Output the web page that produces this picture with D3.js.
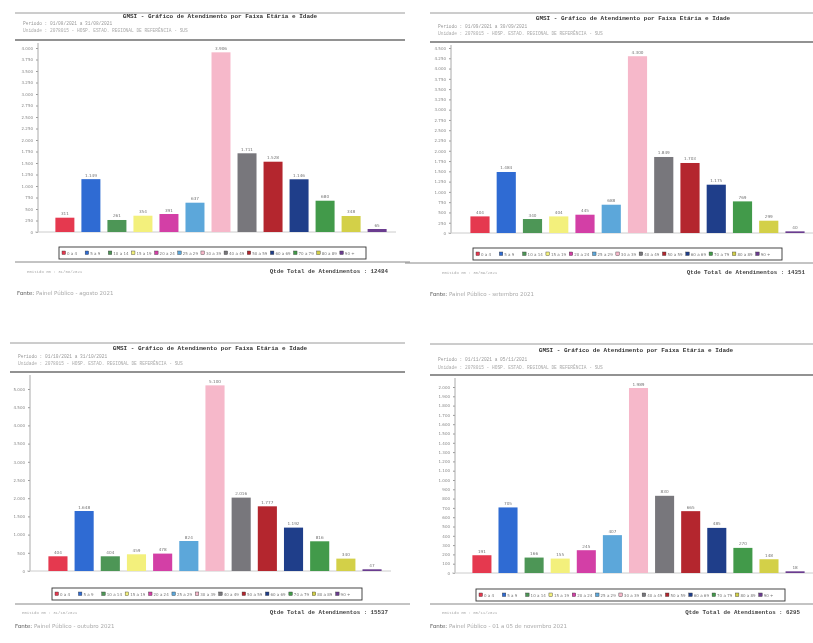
<!DOCTYPE html>
<html>
<head>
<meta charset="utf-8">
<script src="https://cdn.jsdelivr.net/npm/d3@7"></script>
<style>
body { margin: 0; background: #fff; }
svg { display: block; filter: blur(0.6px); }
</style>
</head>
<body>
<div class="chart"></div>
<script>
// faixas etarias (legenda) e cores das barras
var categories = ["0 a 4", "5 a 9", "10 a 14", "15 a 19", "20 a 24", "25 a 29", "30 a 39",
                  "40 a 49", "50 a 59", "60 a 69", "70 a 79", "80 a 89", "90 +"]
var colors = ["#e5394f", "#2f6bd3", "#4d9656", "#f3f07c", "#d33fa6", "#5ca7da", "#f6b8ca",
              "#78777c", "#b4262e", "#1f3e8a", "#429a4a", "#d3d048", "#6a3c8f"]

var agosto   = [311, 1149, 261, 354, 391, 637, 3906, 1711, 1528, 1146, 680, 348, 65]
var setembro = [404, 1484, 340, 404, 445, 688, 4300, 1849, 1703, 1175, 769, 299, 40]
var outubro  = [404, 1648, 404, 459, 478, 824, 5100, 2016, 1777, 1192, 816, 340, 47]
var novembro = [191, 705, 166, 155, 245, 407, 1989, 830, 665, 485, 270, 148, 18]

var totais = [12484, 14351, 15537, 6295]
var yMaxes = [4000, 4500, 5000, 2000]
var ySteps = [250, 250, 500, 100]
var periodos = ["01/08/2021  a  31/08/2021", "01/09/2021  a  30/09/2021",
                "01/10/2021  a  31/10/2021", "01/11/2021  a  05/11/2021"]
var fontes = ["agosto 2021", "setembro 2021", "outubro 2021", "01 a 05 de novembro 2021"]

var width = 813, height = 643

var svg = d3.select(".chart")
  .append("svg")
  .attr("width", width)
  .attr("height", height)

var pt = d3.formatLocale({decimal: ",", thousands: ".", grouping: [3], currency: ["R$", ""]})
var fmt = pt.format(",d")

// posicao de cada painel na pagina escaneada
var panels = [
  {data: agosto, axisX: 38, yTop: 48, y0: 232, x0: 52, x1: 390,
   hL: 15, hR: 405, line1: 13, titleX: 220, titleY: 18, perY: 25, uniY: 32, line2: 40,
   legX: 59, legW: 307, legY: 247, botY: 262, botL: 15, botR: 410, totX: 388, totY: 273, fonteX: 17, fonteY: 295},
  {data: setembro, axisX: 451, yTop: 48, y0: 233, x0: 467, x1: 808,
   hL: 430, hR: 813, line1: 13, titleX: 633, titleY: 20, perY: 28, uniY: 35, line2: 42,
   legX: 473, legW: 309, legY: 248, botY: 263, botL: 405, botR: 813, totX: 805, totY: 274, fonteX: 430, fonteY: 296},
  {data: outubro, axisX: 30, yTop: 389, y0: 571, x0: 45, x1: 385,
   hL: 10, hR: 405, line1: 343, titleX: 210, titleY: 350, perY: 358, uniY: 365, line2: 372,
   legX: 52, legW: 310, legY: 588, botY: 604, botL: 15, botR: 410, totX: 388, totY: 614, fonteX: 15, fonteY: 628},
  {data: novembro, axisX: 455, yTop: 387, y0: 573, x0: 469, x1: 808,
   hL: 430, hR: 813, line1: 344, titleX: 636, titleY: 352, perY: 361, uniY: 369, line2: 375,
   legX: 476, legW: 309, legY: 589, botY: 604, botL: 430, botR: 813, totX: 800, totY: 614, fonteX: 430, fonteY: 628}
]

panels.forEach(function(p, i) {
  var g = svg.append("g").attr("class", "panel")

  var x = d3.scaleBand()
    .domain(categories)
    .range([p.x0, p.x1])
    .paddingInner(0.27)
    .paddingOuter(0.13)

  var y = d3.scaleLinear()
    .domain([0, yMaxes[i]])
    .range([p.y0, p.yTop])

  // cabecalho
  g.append("line").attr("x1", p.hL).attr("x2", p.hR).attr("y1", p.line1).attr("y2", p.line1)
    .attr("stroke", "#9a9a9a").attr("stroke-width", 1)
  g.append("text")
    .attr("x", p.titleX).attr("y", p.titleY)
    .attr("text-anchor", "middle")
    .style("font", "bold 6px 'Liberation Mono', monospace")
    .attr("fill", "#333")
    .text("GMSI - Gráfico de Atendimento por Faixa Etária e Idade")
  g.append("text")
    .attr("x", p.hL + 8).attr("y", p.perY)
    .style("font", "4.5px 'Liberation Mono', monospace").attr("fill", "#999")
    .text("Período :   " + periodos[i])
  g.append("text")
    .attr("x", p.hL + 8).attr("y", p.uniY)
    .style("font", "4.5px 'Liberation Mono', monospace").attr("fill", "#aaa")
    .text("Unidade :   2078015 - HOSP. ESTAD. REGIONAL DE REFERÊNCIA - SUS")
  g.append("line").attr("x1", p.hL).attr("x2", p.hR).attr("y1", p.line2).attr("y2", p.line2)
    .attr("stroke", "#6e6e6e").attr("stroke-width", 1.3)

  // eixo y
  var yAxis = d3.axisLeft(y)
    .tickValues(d3.range(0, yMaxes[i] + 1, ySteps[i]))
    .tickSize(2)
    .tickFormat(fmt)
  var ga = g.append("g")
    .attr("transform", "translate(" + p.axisX + ",0)")
    .call(yAxis)
  ga.select(".domain").remove()
  ga.selectAll("line").attr("stroke", "#999")
  ga.selectAll("text").style("font", "4px 'DejaVu Sans', sans-serif").attr("fill", "#888")
  g.append("line").attr("x1", p.axisX).attr("x2", p.axisX)
    .attr("y1", p.y0).attr("y2", p.line2 + 3).attr("stroke", "#aaa")
  g.append("line").attr("x1", p.axisX - 3).attr("x2", p.x1 + 6)
    .attr("y1", p.y0).attr("y2", p.y0).attr("stroke", "#ccc")

  // barras
  g.selectAll("rect.bar")
    .data(p.data)
    .enter()
    .append("rect")
    .attr("class", "bar")
    .attr("x", function(d, j) { return x(categories[j]) })
    .attr("y", function(d) { return y(d) })
    .attr("width", x.bandwidth())
    .attr("height", function(d) { return p.y0 - y(d) })
    .attr("fill", function(d, j) { return colors[j] })

  g.selectAll("text.val")
    .data(p.data)
    .enter()
    .append("text")
    .attr("class", "val")
    .attr("x", function(d, j) { return x(categories[j]) + x.bandwidth() / 2 })
    .attr("y", function(d) { return y(d) - 2.5 })
    .attr("text-anchor", "middle")
    .style("font", "4.2px 'DejaVu Sans', sans-serif")
    .attr("fill", "#777")
    .text(function(d) { return fmt(d) })

  // legenda
  var leg = g.append("g").attr("transform", "translate(" + p.legX + "," + p.legY + ")")
  leg.append("rect").attr("width", p.legW).attr("height", 12)
    .attr("fill", "#fff").attr("stroke", "#333").attr("stroke-width", 0.9)
  var lx = d3.scaleBand().domain(categories).range([3, p.legW - 3])
  var items = leg.selectAll("g.item")
    .data(categories)
    .enter()
    .append("g")
    .attr("class", "item")
    .attr("transform", function(d) { return "translate(" + lx(d) + ",0)" })
  items.append("rect")
    .attr("y", 4).attr("width", 3.5).attr("height", 3.5)
    .attr("fill", function(d, j) { return colors[j] })
    .attr("stroke", "#333").attr("stroke-width", 0.4)
  items.append("text")
    .attr("x", 5).attr("y", 7.6)
    .style("font", "4px 'DejaVu Sans', sans-serif").attr("fill", "#777")
    .text(function(d) { return d })

  // rodape
  g.append("line").attr("x1", p.botL).attr("x2", p.botR).attr("y1", p.botY).attr("y2", p.botY)
    .attr("stroke", "#888").attr("stroke-width", 1)
  g.append("text")
    .attr("x", p.hL + 12).attr("y", p.totY)
    .style("font", "4px 'Liberation Mono', monospace").attr("fill", "#aaa")
    .text("Emitido em :  " + periodos[i].slice(-10))
  g.append("text")
    .attr("x", p.totX).attr("y", p.totY)
    .attr("text-anchor", "end")
    .style("font", "bold 5.8px 'Liberation Mono', monospace").attr("fill", "#444")
    .text("Qtde Total de Atendimentos : " + totais[i])
  var f = g.append("text")
    .attr("x", p.fonteX).attr("y", p.fonteY)
    .style("font", "5.5px 'DejaVu Sans', sans-serif")
  f.append("tspan").attr("fill", "#555").text("Fonte: ")
  f.append("tspan").attr("fill", "#aaa").text("Painel Público - " + fontes[i])
})
</script>
</body>
</html>
